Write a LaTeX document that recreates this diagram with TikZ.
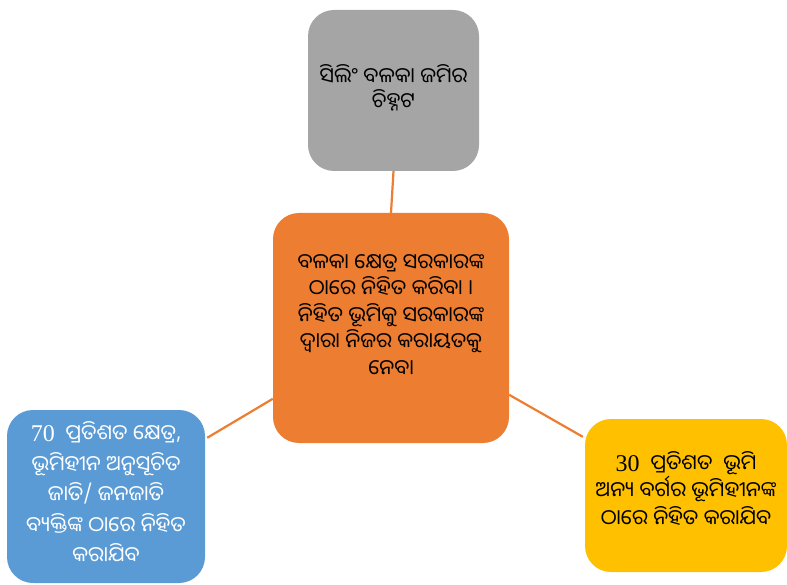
\documentclass[tikz,border=0pt]{standalone}
\usepackage{fontspec}
\newfontfamily\odia[Script=Oriya]{Noto Sans Oriya UI}
\newfontfamily\numfont{Liberation Serif}
\definecolor{cgray}{HTML}{A5A5A5}
\definecolor{corange}{HTML}{ED7D31}
\definecolor{cblue}{HTML}{5B9BD5}
\definecolor{cyellow}{HTML}{FFC000}
\tikzset{
  box/.style={rounded corners=26pt, inner sep=0pt},
  txt/.style={align=center, inner sep=0pt},
  conn/.style={draw=corange, line width=2.2pt}
}
\begin{document}
\begin{tikzpicture}[x=1pt,y=-1pt]
\useasboundingbox (0,0) rectangle (787,585);
\node[box, fill=cgray, minimum width=171pt, minimum height=161pt] (top) at (393.5,90.5) {};
\node[txt, font=\odia\fontsize{21}{25}\selectfont] (toptext) at (393.5,87.5) {ସିଲିଂ ବଳକା ଜମିର\\ଚିହ୍ନଟ};
\node[box, fill=corange, minimum width=236pt, minimum height=230pt] (mid) at (391,328) {};
\node[txt, font=\odia\fontsize{21}{26.5}\selectfont] (midtext) at (391,315.5) {ବଳକା କ୍ଷେତ୍ର ସରକାରଙ୍କ\\ଠାରେ ନିହିତ କରିବା ।\\ନିହିତ ଭୂମିକୁ ସରକାରଙ୍କ\\ଦ୍ୱାରା ନିଜର କରାୟତକୁ\\ନେବା};
\node[box, fill=cblue, minimum width=198pt, minimum height=173pt] (left) at (106,496.5) {};
\node[txt, font=\odia\fontsize{21}{30.5}\selectfont, text=white] (lefttext) at (106,493) {{\numfont\fontsize{24}{30}\selectfont 70}\ \ ପ୍ରତିଶତ କ୍ଷେତ୍ର,\\ଭୂମିହୀନ ଅନୁସୂଚିତ\\ଜାତି/ ଜନଜାତି\\ବ୍ୟକ୍ତିଙ୍କ ଠାରେ ନିହିତ\\କରାଯିବ};
\node[box, fill=cyellow, minimum width=202pt, minimum height=153pt] (right) at (686,495.5) {};
\node[txt, font=\odia\fontsize{21}{27.5}\selectfont] (righttext) at (686,489) {{\numfont\fontsize{24}{27.5}\selectfont 30}\ \ ପ୍ରତିଶତ \ ଭୂମି\\ଅନ୍ୟ ବର୍ଗର ଭୂମିହୀନଙ୍କ\\ଠାରେ ନିହିତ କରାଯିବ};
\draw[conn] (top.south) -- (mid.north);
\draw[conn] ([xshift=2pt,yshift=-28pt]left.north east) -- ([yshift=-186pt]mid.north west);
\draw[conn] ([yshift=-182pt]mid.north east) -- ([xshift=-2pt,yshift=-18pt]right.north west);
\end{tikzpicture}
\end{document}
